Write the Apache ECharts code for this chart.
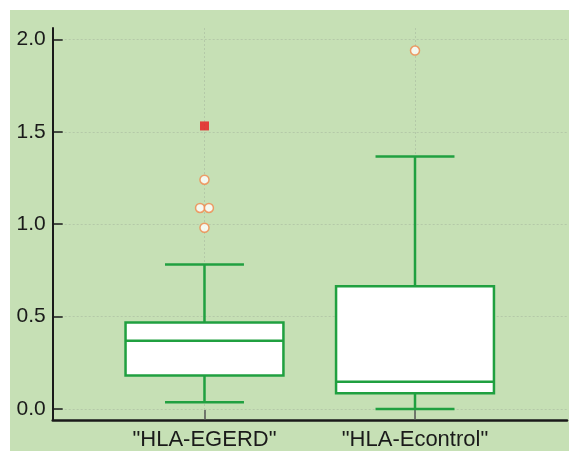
<!DOCTYPE html>
<html><head><meta charset="utf-8">
<script src="https://cdn.jsdelivr.net/npm/echarts@6/dist/echarts.min.js"></script>
<style>html,body{margin:0;padding:0;background:#fff;}#c{position:absolute;left:10px;top:10px;width:559px;height:441px;}</style>
</head><body><div id="c"></div>
<script>
var categories = ['"HLA-EGERD"', '"HLA-Econtrol"'];
var categoryPos = [1, 2];
// [min, Q1, median, Q3, max]
var boxValues = [
  [0.036, 0.182, 0.370, 0.468, 0.782],
  [0.000, 0.085, 0.148, 0.665, 1.366]
];
var outliers = [[1, 1.241], [0.979, 1.088], [1.021, 1.088], [1, 0.981], [2, 1.940]];
var farOutliers = [[1, 1.532]];
var yTicks = [0, 0.5, 1.0, 1.5, 2.0];

var chart = echarts.init(document.getElementById('c'));
var boxData = boxValues.map(function (b, i) { return [categoryPos[i]].concat(b); });
var green = '#20a040';
var gridLine = {show: true, lineStyle: {color: 'rgba(140,150,140,0.3)', type: [2, 2], width: 1}};
chart.setOption({
  backgroundColor: '#c6e0b5',
  animation: false,
  grid: {left: 42.7, right: 2, top: 18, bottom: 31},
  xAxis: {
    type: 'value', min: 0.279, max: 2.722,
    axisLine: {show: true, onZero: false, lineStyle: {color: '#1a1a1a', width: 2.5}},
    axisTick: {show: true, inside: true, length: 10, customValues: categoryPos, lineStyle: {color: '#555', width: 1.5}},
    axisLabel: {show: true, customValues: categoryPos, color: '#1a1a1a', fontSize: 22, fontFamily: 'Liberation Sans', margin: 9,
      formatter: function (v) { var i = categoryPos.indexOf(v); return i >= 0 ? categories[i] : ''; }},
    splitLine: gridLine
  },
  yAxis: {
    type: 'value', min: -0.0595, max: 2.062,
    axisLine: {show: true, lineStyle: {color: '#1a1a1a', width: 2}},
    axisTick: {show: true, inside: true, length: 10, customValues: yTicks, lineStyle: {color: '#1a1a1a', width: 1.5}},
    axisLabel: {show: true, customValues: yTicks, color: '#1a1a1a', fontSize: 21, fontFamily: 'Liberation Sans', margin: 7,
      formatter: function (v) { return v.toFixed(1); }},
    splitLine: gridLine
  },
  series: [
    {
      type: 'custom',
      data: boxData,
      renderItem: function (params, api) {
        var x = api.value(0);
        var mn = api.value(1), q1 = api.value(2), md = api.value(3), q3 = api.value(4), mx = api.value(5);
        var hw = 0.375, cw = 0.1875;
        var p = function (a, b) { return api.coord([a, b]); };
        var ls = {stroke: green, lineWidth: 2.5, fill: null};
        var tl = p(x - hw, q3), br = p(x + hw, q1);
        return {type: 'group', children: [
          {type: 'line', shape: {x1: p(x, q3)[0], y1: p(x, q3)[1], x2: p(x, mx)[0], y2: p(x, mx)[1]}, style: ls},
          {type: 'line', shape: {x1: p(x, q1)[0], y1: p(x, q1)[1], x2: p(x, mn)[0], y2: p(x, mn)[1]}, style: ls},
          {type: 'line', shape: {x1: p(x - cw, mx)[0], y1: p(x - cw, mx)[1], x2: p(x + cw, mx)[0], y2: p(x + cw, mx)[1]}, style: ls},
          {type: 'line', shape: {x1: p(x - cw, mn)[0], y1: p(x - cw, mn)[1], x2: p(x + cw, mn)[0], y2: p(x + cw, mn)[1]}, style: ls},
          {type: 'rect', shape: {x: tl[0], y: tl[1], width: br[0] - tl[0], height: br[1] - tl[1]}, style: {fill: '#fff', stroke: green, lineWidth: 2.5}},
          {type: 'line', shape: {x1: p(x - hw, md)[0], y1: p(x - hw, md)[1], x2: p(x + hw, md)[0], y2: p(x + hw, md)[1]}, style: ls}
        ]};
      },
      z: 3
    },
    {
      type: 'scatter', data: outliers, symbol: 'circle', symbolSize: 9,
      itemStyle: {color: '#fff', borderColor: '#f0874a', borderWidth: 1.5}, z: 4
    },
    {
      type: 'scatter', data: farOutliers, symbol: 'rect', symbolSize: 9,
      itemStyle: {color: '#e8161b'}, z: 4
    }
  ]
});
</script></body></html>
